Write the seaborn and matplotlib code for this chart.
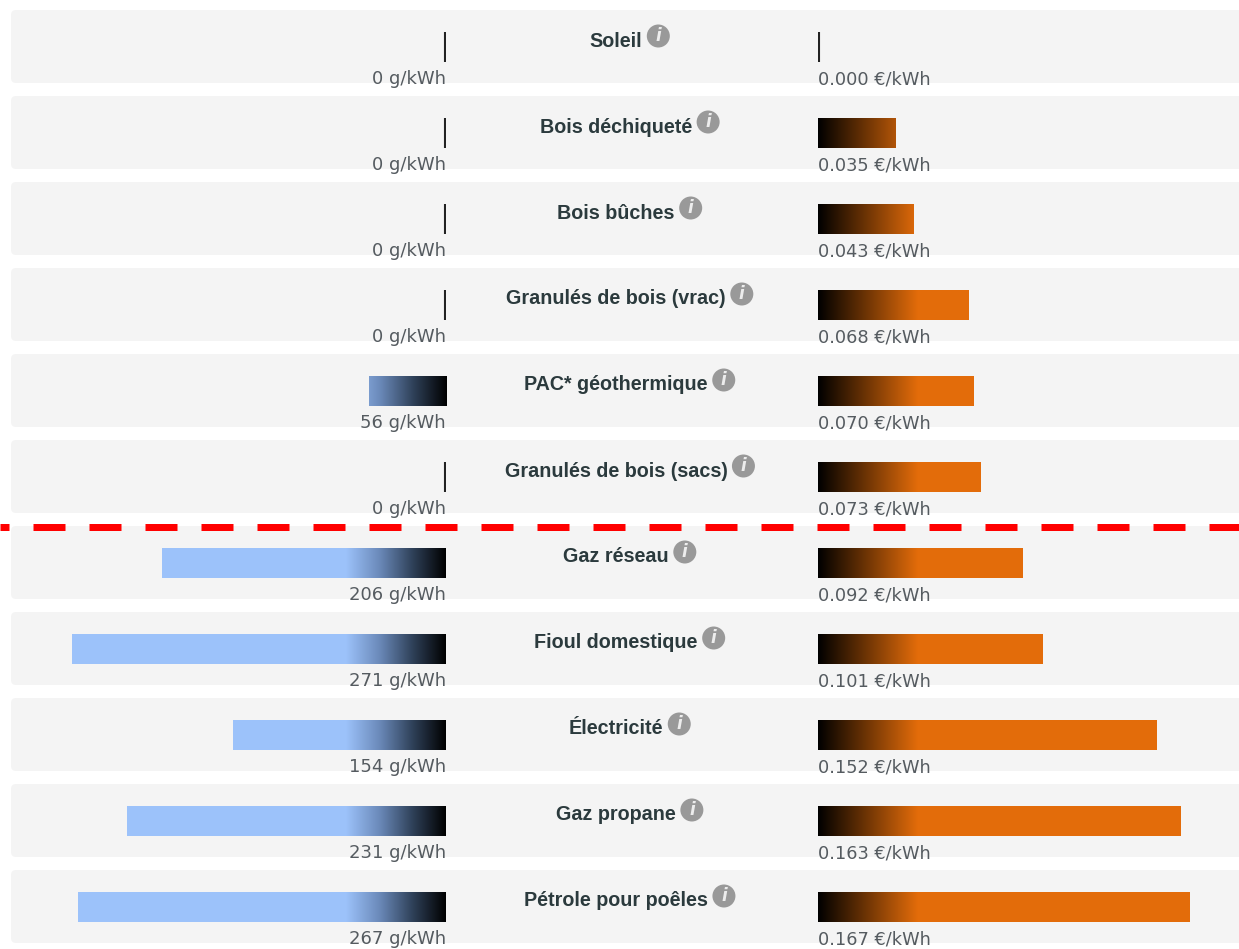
import matplotlib
matplotlib.use("Agg")
import matplotlib.pyplot as plt
import numpy as np
import pandas as pd
import seaborn as sns
from matplotlib.colors import LinearSegmentedColormap
from matplotlib.patches import FancyBboxPatch, Circle

energies = ["Soleil", "Bois déchiqueté", "Bois bûches", "Granulés de bois (vrac)",
            "PAC* géothermique", "Granulés de bois (sacs)", "Gaz réseau",
            "Fioul domestique", "Électricité", "Gaz propane", "Pétrole pour poêles"]
co2_g_kwh = [0, 0, 0, 0, 56, 0, 206, 271, 154, 231, 267]
price_eur_kwh = [0.000, 0.035, 0.043, 0.068, 0.070, 0.073, 0.092, 0.101, 0.152, 0.163, 0.167]

W, H = 1239, 949
ROW = 86
FIRST_BAR_TOP = 32
BAR_H = 30
BLUE, ORANGE = "#9CC2FA", "#E36C0A"

sns.set_theme(style="white")
plt.rcParams["font.family"] = ["DejaVu Sans"]

df = pd.DataFrame({"energy": energies, "co2": co2_g_kwh, "price": price_eur_kwh})
fig = plt.figure(figsize=(W / 100, H / 100), dpi=100, facecolor="white")

def px_axes(x0, y0, x1, y1):
    return fig.add_axes([x0 / W, 1 - y1 / H, (x1 - x0) / W, (y1 - y0) / H])

bg = px_axes(0, 0, W, H)
bg.set_xlim(0, W); bg.set_ylim(H, 0); bg.set_axis_off()
for i in range(len(energies)):
    top = FIRST_BAR_TOP + ROW * i
    bg.add_patch(FancyBboxPatch((15, top - 18), W, 65,
                                boxstyle="round,pad=4,rounding_size=5",
                                fc="#F4F4F4", ec="none", zorder=1))

axes_top = FIRST_BAR_TOP + BAR_H / 2 - ROW / 2
ylim = (H - axes_top) / ROW - 0.5, -0.5

def bars(ax, col, color, cmap, grad_data, px_data, xlim, fmt):
    sns.barplot(data=df, y="energy", x=col, orient="h", ax=ax, color=color,
                saturation=1, width=BAR_H / ROW, linewidth=0)
    for i, bar in enumerate(ax.containers[0]):
        y0 = bar.get_y()
        if df[col][i] == 0:
            ax.vlines(px_data, y0, y0 + bar.get_height(), color="#222222", lw=1.5, zorder=4)
        else:
            im = ax.imshow(np.linspace(0, 1, 256)[None, :], cmap=cmap, aspect="auto",
                           extent=(0, grad_data, y0 + bar.get_height(), y0), zorder=3)
            im.set_clip_path(bar)
        ax.annotate(fmt(df[col][i]), xy=(0, i), xytext=(0, -37), textcoords="offset pixels",
                    ha="right" if col == "co2" else "left",
                    va="baseline", fontsize=13 if col == "co2" else 12.8, color="#555B60")
    ax.set_xlim(*xlim); ax.set_ylim(*ylim)
    ax.set_axis_off(); ax.patch.set_alpha(0)

# left: emissions, growing leftwards from x=446 px
PX_G = 1.38
ax_l = px_axes(11, axes_top, 446, H)
bars(ax_l, "co2", BLUE, LinearSegmentedColormap.from_list("b", ["#000000", "#2F4159", "#6B8ABA", BLUE]),
     100 / PX_G, 1 / PX_G, (435 / PX_G, 0), lambda v: f"{v} g/kWh")

# right: price, growing rightwards from x=818 px
PX_E = 2227
ax_r = px_axes(818, axes_top, W, H)
bars(ax_r, "price", ORANGE, LinearSegmentedColormap.from_list("o", ["#000000", ORANGE]),
     100 / PX_E, 1 / PX_E, (0, (W - 818) / PX_E), lambda v: f"{v:.3f} €/kWh")

# titles with info icons
fig.canvas.draw()
rend = fig.canvas.get_renderer()
for i, name in enumerate(energies):
    top = FIRST_BAR_TOP + ROW * i
    t = bg.text(616, top + 9, name, ha="center", va="center", fontsize=14.2,
                family="Liberation Sans", fontweight="bold", color="#2B3A3D", zorder=5)
    x_end = bg.transData.inverted().transform(t.get_window_extent(rend))[1, 0]
    bg.add_patch(Circle((x_end + 16, top + 4), 11.5, fc="#999999", ec="none", zorder=5))
    bg.text(x_end + 16, top + 4, "i", ha="center", va="center", fontsize=12, style="italic",
            fontweight="bold", color="#EDEDED", zorder=6)

# red dashed threshold between rows
over = px_axes(0, 0, W, H)
over.set_xlim(0, W); over.set_ylim(H, 0); over.set_axis_off(); over.patch.set_alpha(0)
lw_px = 7
over.plot([0, W], [526.5, 526.5], color="#FF0000", lw=lw_px * 72 / 100,
          linestyle=(23 / lw_px, (32 / lw_px, 24 / lw_px)), dash_capstyle="butt")

fig.savefig("out.png", dpi=100)
